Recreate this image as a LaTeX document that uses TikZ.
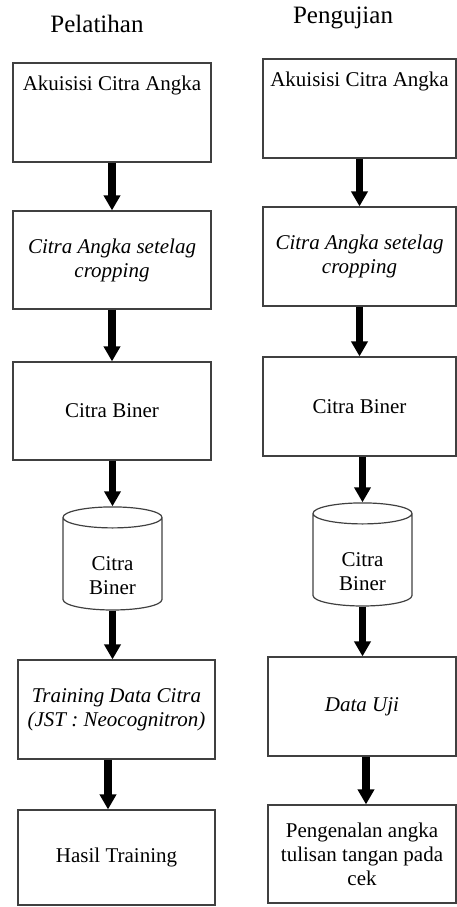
\documentclass[tikz,border=0pt]{standalone}
\usepackage{fontspec}
\setmainfont{Liberation Serif}
\usetikzlibrary{arrows.meta,shapes.geometric}

\tikzset{
  box/.style={draw=black!75, line width=1.2pt, align=center, inner sep=0pt,
    minimum width=198pt, minimum height=99pt, font=\fontsize{21}{24}\selectfont},
  topbox/.style={box, text height=14pt, text depth=58pt},
  store/.style={cylinder, shape border rotate=90, aspect=0.45, draw=black!75,
    line width=1.2pt, align=center, inner sep=0pt, text height=66pt, text depth=5pt,
    minimum width=99pt, minimum height=99pt, font=\fontsize{21}{24}\selectfont},
  title/.style={font=\fontsize{25}{30}\selectfont},
  flow/.style={line width=7.5pt, -{Triangle[width=16pt,length=15pt]}}
}

\begin{document}
\begin{tikzpicture}[x=1pt,y=-1pt]
		%%%%% START %%%%%
		\useasboundingbox (0,0) rectangle (457,907);
		
		% Pelatihan
		\node[title] (titleL) at (97,24) {Pelatihan};
		\node[topbox] (akuisisiL) at (112,112.5) {Akuisisi Citra Angka};
		\node[box, minimum height=98pt] (cropL) at (112,260) {\itshape Citra Angka setelag\\ \itshape cropping};
		\node[box, minimum height=98pt] (binerL) at (112,411) {Citra Biner};
		\node[store] (dbL) at (112.5,564) {Citra\\Biner};
		\node[box, minimum width=197pt] (trainL) at (116.5,709.5) {\itshape Training Data Citra\\ \itshape (JST : Neocognitron)};
		\node[box, minimum width=197pt, minimum height=95pt] (hasilL) at (116.5,857.5) {Hasil Training};
		
		\draw[flow] (akuisisiL) -- (cropL);
		\draw[flow] (cropL) -- (binerL);
		\draw[flow] (binerL.south -| dbL.north) -- (dbL.north);
		\draw[flow] (dbL.south) -- (dbL.south |- trainL.north);
		\draw[flow] ([xshift=-8.5pt]trainL.south) -- ([xshift=-8.5pt]hasilL.north);
		
		% Pengujian
		\node[title] (titleR) at (343,18) {Pengujian};
		\node[topbox, minimum width=193pt] (akuisisiR) at (359.5,108.5) {Akuisisi Citra Angka};
		\node[box, minimum width=193pt] (cropR) at (359.5,256.5) {\itshape Citra Angka setelag\\ \itshape cropping};
		\node[box, minimum width=193pt] (binerR) at (359.5,406.5) {Citra Biner};
		\node[store] (dbR) at (362.5,560) {Citra\\Biner};
		\node[box, minimum width=188pt] (ujiR) at (362,706.5) {\itshape Data Uji};
		\node[box, minimum width=188pt, minimum height=98pt] (kenalR) at (362,854) {Pengenalan angka\\tulisan tangan pada\\cek};
		
		\draw[flow] (akuisisiR) -- (cropR);
		\draw[flow] (cropR) -- (binerR);
		\draw[flow] (dbR.north |- binerR.south) -- (dbR.north);
		\draw[flow] (dbR.south) -- (dbR.south |- ujiR.north);
		\draw[flow] ([xshift=4pt]ujiR.south) -- ([xshift=4pt]kenalR.north);
		
		%%%%% END %%%%%
\end{tikzpicture}
\end{document}
